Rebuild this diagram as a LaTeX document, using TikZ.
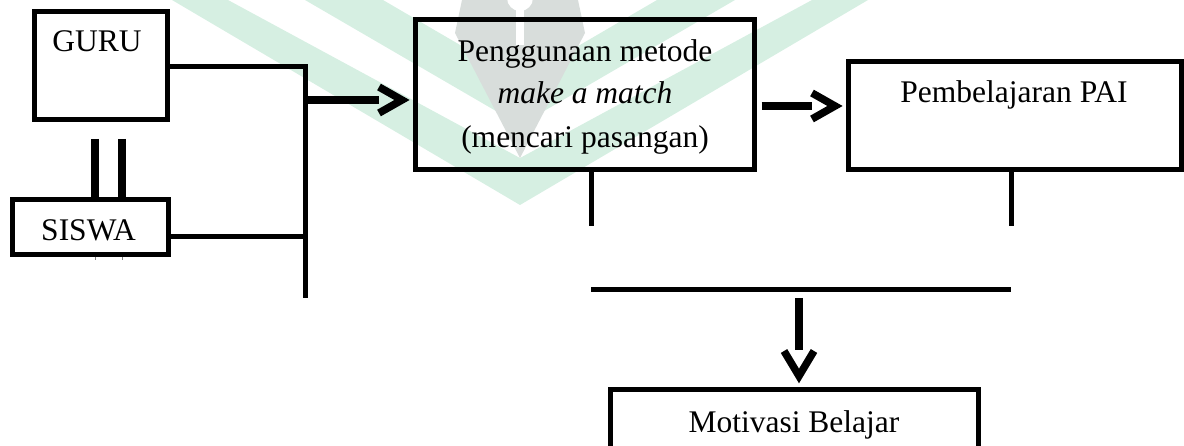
\documentclass[tikz,border=0pt]{standalone}
\usepackage{fontspec}
\setmainfont{Liberation Serif}
\usetikzlibrary{calc}
\definecolor{wmgreen}{RGB}{214,239,226}
\definecolor{wmgray}{RGB}{216,221,219}
\begin{document}
\begin{tikzpicture}[x=1pt,y=-1pt,
  box/.style={draw=black, line width=5pt, rectangle, inner sep=0pt, outer sep=0pt},
  txt/.style={inner sep=0pt, outer sep=0pt, anchor=base, font=\fontsize{31.5}{43.5}\selectfont},
  conn/.style={draw=black, line width=5pt, line cap=butt, line join=miter},
  thick bar/.style={draw=black, line width=8.5pt, line cap=butt},
  head/.style={draw=black, line width=7.5pt, line cap=butt, line join=miter, miter limit=10},
  dbl/.style={draw=black, line width=8pt, line cap=butt}]
\useasboundingbox (0,0) rectangle (1184,446);
\clip (0,0) rectangle (1184,446);
% watermark
\fill[wmgreen] (172,0) -- (520,205) -- (868,0) -- (812,0) -- (520,158) -- (228,0) -- cycle;
\fill[wmgreen] (305,0) -- (520,125) -- (735,0) -- (657,0) -- (520,80) -- (383,0) -- cycle;
\fill[wmgray] (462,0) -- (455,33) -- (520,158) -- (585,33) -- (578,0) -- cycle;
\fill[white] (520,-2) circle (13);
\fill[white] (516,0) rectangle (524,45);
% boxes
\node[box, minimum width=133pt, minimum height=107.5pt] (guru) at (101,65.75) {};
\node[box, minimum width=155.5pt, minimum height=54.5pt] (siswa) at (90.25,227.25) {};
\node[box, minimum width=338.5pt, minimum height=149.5pt] (pg) at (584.75,94.75) {};
\node[box, minimum width=333pt, minimum height=107.5pt] (pb) at (1014.5,115.75) {};
\node[box, minimum width=368pt, minimum height=90pt] (mb) at (794,434.5) {};
% texts
\node[txt] (guruT) at (97,52) {GURU};
\node[txt] (siswaT) at (88.5,241) {SISWA};
\node[txt] (pgT1) at (585,62) {Penggunaan metode};
\node[txt] (pgT2) at (585,104) {\itshape make a match};
\node[txt] (pgT3) at (585,147.5) {(mencari pasangan)};
\node[txt] (pbT) at (1014,103) {Pembelajaran PAI};
\node[txt] (mbT) at (794,432) {Motivasi Belajar};
% double line guru - siswa
\coordinate (d1) at (95,139);
\coordinate (d2) at (122,139);
\draw[dbl] (d1) -- (d1 |- siswa.north);
\draw[dbl] (d2) -- (d2 |- siswa.north);
\draw[gray, line width=1pt] (95,257) -- (95,260) (122,257) -- (122,260);
% junction bar
\coordinate (top) at (305.5,67);
\coordinate (bot) at (305.5,298);
\coordinate (jS) at (305.5,237);
\draw[conn] (guru.east |- top) -- (top) -- (bot);
\draw[conn] (siswa.east |- jS) -- (jS);
% arrow 1 to pg
\coordinate (a1) at (305.5,100);
\coordinate (t1) at ($(pg.west |- a1)+(-13.5,0)$);
\draw[thick bar] (a1) -- ($(t1)+(-23,0)$);
\draw[head] ($(t1)+(-23,-13)$) -- (t1) -- ($(t1)+(-23,13)$);
% arrow 2 to pb
\coordinate (a2) at ($(pg.east |- 0,106)+(7.5,0)$);
\coordinate (t2) at ($(pb.west |- a2)+(-13,0)$);
\draw[thick bar] (a2) -- ($(t2)+(-23,0)$);
\draw[head] ($(t2)+(-23,-13)$) -- (t2) -- ($(t2)+(-23,13)$);
% stubs and collector
\coordinate (s1) at (591,226);
\coordinate (s2) at (1011,226);
\draw[conn] (s1 |- pg.south) -- (s1);
\draw[conn] (s2 |- pb.south) -- (s2);
\coordinate (h1) at (591,290);
\coordinate (h2) at (1011,290);
\draw[conn] (h1) -- (h2);
% down arrow to mb
\coordinate (v1) at (799,298);
\coordinate (t3) at ($(v1 |- mb.north)+(0,-13.5)$);
\draw[thick bar] (v1) -- ($(t3)+(0,-26)$);
\draw[head] ($(t3)+(-15,-25)$) -- (t3) -- ($(t3)+(15,-25)$);
\end{tikzpicture}
\end{document}
